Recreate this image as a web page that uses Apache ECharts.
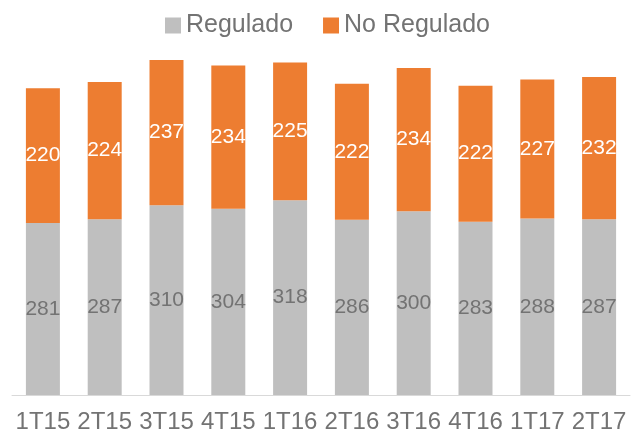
<!DOCTYPE html>
<html>
<head>
  <meta charset="utf-8">
  <title>ECharts</title>
  <script src="https://cdn.jsdelivr.net/npm/echarts@6/dist/echarts.min.js"></script>
  <style>body{margin:0;background:#fff}</style>
</head>
<body>
<div id="main" style="height: 440px;width: 642px"></div>
<script type="text/javascript">
  // datos por trimestre
  var categories = ['1T15', '2T15', '3T15', '4T15', '1T16', '2T16', '3T16', '4T16', '1T17', '2T17'];
  var regulado = [281, 287, 310, 304, 318, 286, 300, 283, 288, 287];
  var noRegulado = [220, 224, 237, 234, 225, 222, 234, 222, 227, 232];

  var font = 'Liberation Sans';
  var myChart = echarts.init(document.getElementById('main'));
  var option = {
    animation: false,
    color: ['#BFBFBF', '#ED7D31'],
    legend: {
      top: 8,
      left: 160,
      itemWidth: 16,
      itemHeight: 16,
      itemGap: 30,
      icon: 'rect',
      textStyle: { fontFamily: font, fontSize: 25, color: '#737373' },
      data: ['Regulado', 'No Regulado']
    },
    grid: { left: 12, right: 12, top: 27.5, bottom: 45 },
    xAxis: {
      type: 'category',
      data: categories,
      axisTick: { show: false },
      axisLine: { lineStyle: { color: '#D9D9D9', width: 1 } },
      axisLabel: { fontFamily: font, fontSize: 24, color: '#737373', margin: 15, interval: 0 }
    },
    yAxis: {
      type: 'value',
      min: 0,
      max: 600,
      show: false,
      splitLine: { show: false }
    },
    series: [
      {
        name: 'Regulado',
        type: 'bar',
        stack: 'total',
        barWidth: '55%',
        data: regulado,
        label: { show: true, position: 'inside', fontFamily: font, fontSize: 21, color: '#737373' }
      },
      {
        name: 'No Regulado',
        type: 'bar',
        stack: 'total',
        barWidth: '55%',
        data: noRegulado,
        label: { show: true, position: 'inside', fontFamily: font, fontSize: 21, color: '#FFFFFF' }
      }
    ]
  };
  myChart.setOption(option);
</script>
</body>
</html>
